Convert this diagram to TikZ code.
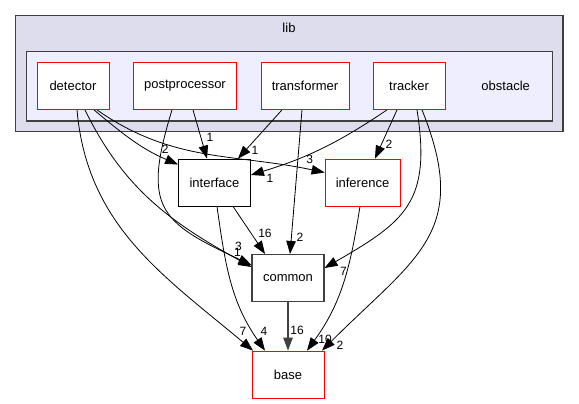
\documentclass[tikz,border=0pt]{standalone}
\usepackage{fontspec}
\setmainfont{Liberation Sans}
\usepackage{xcolor}
\usetikzlibrary{arrows.meta,backgrounds,calc,positioning}

\definecolor{libfill}{HTML}{DDDDEE}
\definecolor{dirfill}{HTML}{EEEEFF}
\definecolor{edgegray}{HTML}{404040}

\begin{document}
\begin{tikzpicture} [x=1pt, y=-1pt, line width=0.8pt, >={Triangle[length=13pt,width=9.5pt]},
	box_red/.style={draw=red, fill=white, minimum width=72pt, minimum height=47pt, inner sep=0pt, font=\fontsize{13}{15}\selectfont},
	box_black/.style={box_red, draw=black},
	box_gray/.style={box_red, draw=edgegray, line width=1.1pt},
	num/.style={inner sep=0pt, font=\fontsize{12}{14}\selectfont}]
	
	\useasboundingbox (0,0) rectangle (579,404);
	
	\begin{scope}
	
	\node (lib) at (289,28) [font=\fontsize{13}{15}\selectfont] {lib};
	
	\node (obstacle) at (505.7,86) [font=\fontsize{13}{15}\selectfont] {obstacle};
	
	\node (detector) at (73,86) [box_red] {detector};
	
	\node (postprocessor) at (185,86) [box_red, minimum width=103pt] {postprocessor};
	
	\node (transformer) at (305,86) [box_red, minimum width=88pt] {transformer};
	
	\node (tracker) at (409,86) [box_red] {tracker};
	
	\coordinate (top_left_lib) at (15.7,15.7);
	
	\coordinate (bottom_right_lib) at (563,131.7);
	
	\coordinate (top_left_obstacle) at (26.7,51.7);
	
	\coordinate (bottom_right_obstacle) at (552.3,121);
	
	\end{scope}
	
	
	\begin{scope}
	
	\node (interface) at (214.5,182.5) [box_black] {interface};
	
	\node (inference) at (362.5,182.5) [box_red, minimum width=75pt] {inference};
	
	\node (common) at (288,278) [box_gray] {common};
	
	\node (base) at (288,374.5) [box_red] {base};
	
	\end{scope}
	
	
	\draw [->] ([xshift=4pt]detector.south) to [out=-85, in=140] node[num, pos=1, xshift=-10pt, yshift=19pt] {7} ([xshift=-35pt]base.north);
	
	\draw [->] ([xshift=12pt]detector.south) to [out=-64, in=151] node[num, pos=1, xshift=-13pt, yshift=21pt] {3} ([yshift=11pt]common.west);
	
	\draw [->] ([xshift=21pt]detector.south) to [out=-40, in=157] node[num, pos=1, xshift=-13pt, yshift=15pt] {2} ([yshift=18pt]interface.west);
	
	\draw [->] ([xshift=24pt]detector.south) to [out=-35, in=168] node[num, pos=1, xshift=-15pt, yshift=13pt] {3} ([yshift=10pt]inference.west);
	
	\draw [->] ([xshift=-13pt]postprocessor.south) to [out=-107, in=155, looseness=1.5] node[num, pos=1, xshift=-14pt, yshift=13pt] {1} ([yshift=13pt]common.west);
	
	\draw [->] ([xshift=8pt]postprocessor.south) to node[num, pos=1, xshift=3pt, yshift=21pt] {1} ([xshift=-7.5pt]interface.north);
	
	\draw [->] ([xshift=-23pt]transformer.south) to node[num, pos=1, xshift=17pt, yshift=8pt] {1} ([xshift=23.5pt]interface.north);
	
	\draw [->] ([xshift=-3pt]transformer.south) to node[num, pos=1, xshift=10pt, yshift=17pt] {2} ([xshift=2pt]common.north);
	
	\draw [->] ([xshift=-22pt]tracker.south) to [out=-146, in=17] node[num, pos=1, xshift=19pt, yshift=-3pt] {1} ([yshift=7.5pt]interface.east);
	
	\draw [->] ([xshift=-12pt]tracker.south) to node[num, pos=1, xshift=14pt, yshift=14pt] {2} ([xshift=12.5pt]inference.north);
	
	\draw [->] ([xshift=8pt]tracker.south) to [out=-81, in=30, looseness=1.3] node[num, pos=1, xshift=19pt, yshift=-3pt] {7} ([yshift=10pt]common.east);
	
	\draw [->] ([xshift=13pt]tracker.south) to [out=-68, in=45, looseness=1.3] node[num, pos=1, xshift=18pt, yshift=5pt] {2} ([xshift=34pt]base.north);
	
	\draw [->] ([xshift=18.5pt]interface.south) to node[num, pos=1, yshift=21pt] {16} ([xshift=-23pt]common.north);
	
	\draw [->] ([xshift=2.5pt]interface.south) to [out=-82, in=125] node[num, pos=1, xshift=-1pt, yshift=19pt] {4} ([xshift=-23pt]base.north);
	
	\draw [->] ([xshift=-2.5pt]inference.south) to [out=-99, in=54] node[num, pos=1, xshift=18pt, yshift=11pt] {10} ([xshift=19pt]base.north);
	
	\draw [->, edgegray, line width=1.1pt] (common) to node[num, pos=1, xshift=9pt, yshift=20pt, black] {16} (base);
	
	
	\begin{pgfonlayer}{background}
	
	\filldraw [line width=1.2pt, draw=edgegray, fill=libfill]
	
	(top_left_lib) rectangle (bottom_right_lib);
	
	\filldraw [line width=1.2pt, draw=edgegray, fill=dirfill]
	
	(top_left_obstacle) rectangle (bottom_right_obstacle);
	
	\end{pgfonlayer}
	
\end{tikzpicture}
\end{document}
